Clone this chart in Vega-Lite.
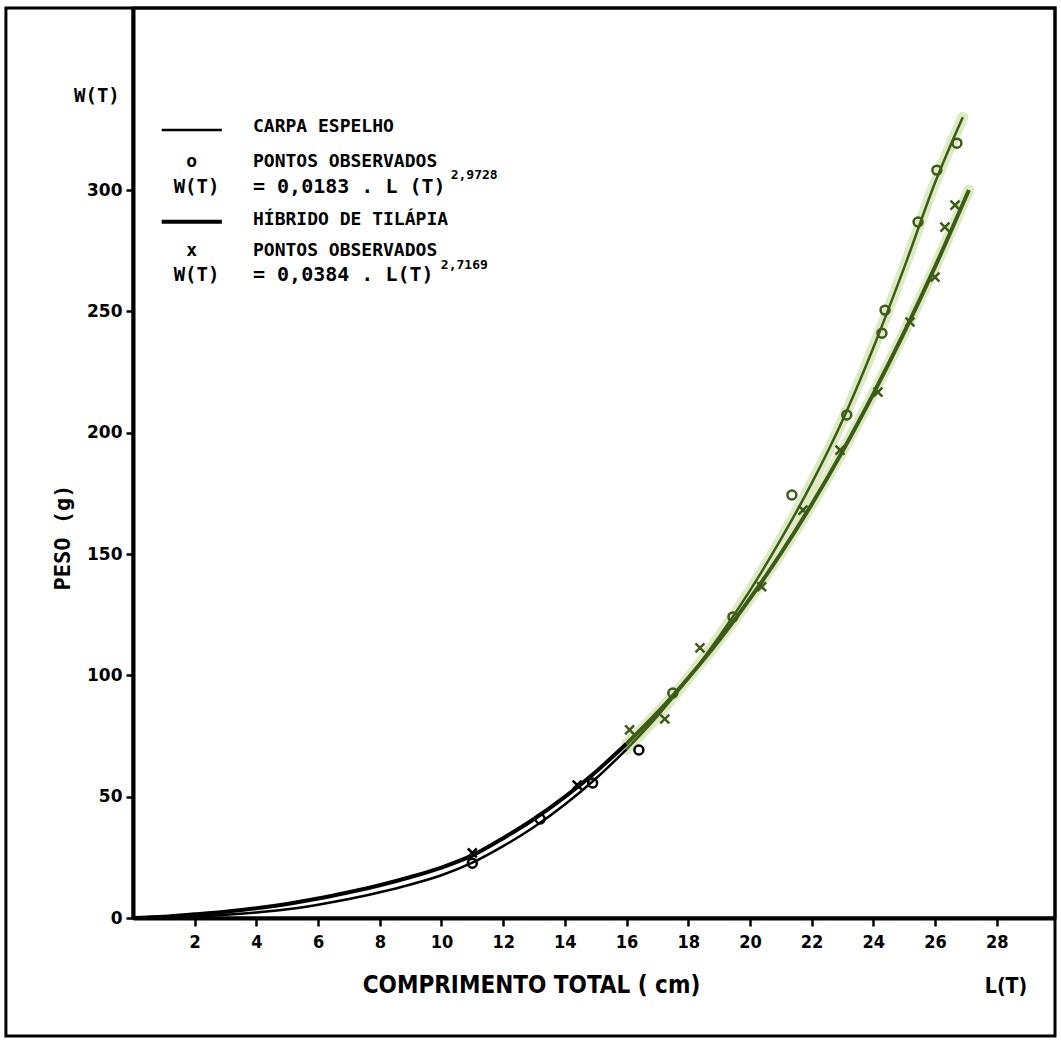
{
  "$schema": "https://vega.github.io/schema/vega-lite/v6.json",
  "width": 922,
  "height": 910,
  "autosize": {"type": "none"},
  "padding": {"left": 133, "top": 8, "right": 6, "bottom": 124},
  "background": "white",
  "config": {
    "view": {"stroke": "black", "strokeWidth": 3},
    "font": "DejaVu Sans",
    "axis": {"grid": false}
  },
  "datasets": {
    "curves": [
      {"species": "Carpa espelho", "L": 0, "W": 0},
      {"species": "Carpa espelho", "L": 1, "W": 0.2},
      {"species": "Carpa espelho", "L": 2, "W": 0.6},
      {"species": "Carpa espelho", "L": 3, "W": 1.3},
      {"species": "Carpa espelho", "L": 4, "W": 2.3},
      {"species": "Carpa espelho", "L": 5, "W": 3.6},
      {"species": "Carpa espelho", "L": 6, "W": 5.5},
      {"species": "Carpa espelho", "L": 7, "W": 7.8},
      {"species": "Carpa espelho", "L": 8, "W": 10.6},
      {"species": "Carpa espelho", "L": 9, "W": 13.8},
      {"species": "Carpa espelho", "L": 10, "W": 17.6},
      {"species": "Carpa espelho", "L": 11, "W": 22.8},
      {"species": "Carpa espelho", "L": 12, "W": 29.6},
      {"species": "Carpa espelho", "L": 13, "W": 37.5},
      {"species": "Carpa espelho", "L": 14, "W": 46.8},
      {"species": "Carpa espelho", "L": 15, "W": 57.4},
      {"species": "Carpa espelho", "L": 16, "W": 69.5},
      {"species": "Carpa espelho", "L": 17, "W": 83.2},
      {"species": "Carpa espelho", "L": 18, "W": 98.7},
      {"species": "Carpa espelho", "L": 19, "W": 115.9},
      {"species": "Carpa espelho", "L": 20, "W": 134.9},
      {"species": "Carpa espelho", "L": 21, "W": 156.0},
      {"species": "Carpa espelho", "L": 22, "W": 179.1},
      {"species": "Carpa espelho", "L": 23, "W": 205.0},
      {"species": "Carpa espelho", "L": 24, "W": 235.0},
      {"species": "Carpa espelho", "L": 25, "W": 268.0},
      {"species": "Carpa espelho", "L": 26, "W": 303.0},
      {"species": "Carpa espelho", "L": 26.9, "W": 330.0},
      {"species": "Híbrido de tilápia", "L": 0, "W": 0},
      {"species": "Híbrido de tilápia", "L": 1, "W": 0.5},
      {"species": "Híbrido de tilápia", "L": 2, "W": 1.5},
      {"species": "Híbrido de tilápia", "L": 3, "W": 2.6},
      {"species": "Híbrido de tilápia", "L": 4, "W": 4.0},
      {"species": "Híbrido de tilápia", "L": 5, "W": 5.8},
      {"species": "Híbrido de tilápia", "L": 6, "W": 8.0},
      {"species": "Híbrido de tilápia", "L": 7, "W": 10.6},
      {"species": "Híbrido de tilápia", "L": 8, "W": 13.5},
      {"species": "Híbrido de tilápia", "L": 9, "W": 16.9},
      {"species": "Híbrido de tilápia", "L": 10, "W": 20.8},
      {"species": "Híbrido de tilápia", "L": 11, "W": 25.8},
      {"species": "Híbrido de tilápia", "L": 12, "W": 32.9},
      {"species": "Híbrido de tilápia", "L": 13, "W": 40.8},
      {"species": "Híbrido de tilápia", "L": 14, "W": 49.9},
      {"species": "Híbrido de tilápia", "L": 15, "W": 60.2},
      {"species": "Híbrido de tilápia", "L": 16, "W": 71.8},
      {"species": "Híbrido de tilápia", "L": 17, "W": 84.6},
      {"species": "Híbrido de tilápia", "L": 18, "W": 98.9},
      {"species": "Híbrido de tilápia", "L": 19, "W": 114.4},
      {"species": "Híbrido de tilápia", "L": 20, "W": 131.6},
      {"species": "Híbrido de tilápia", "L": 21, "W": 150.2},
      {"species": "Híbrido de tilápia", "L": 22, "W": 170.4},
      {"species": "Híbrido de tilápia", "L": 23, "W": 192.3},
      {"species": "Híbrido de tilápia", "L": 24, "W": 216.0},
      {"species": "Híbrido de tilápia", "L": 25, "W": 241.3},
      {"species": "Híbrido de tilápia", "L": 26, "W": 268.3},
      {"species": "Híbrido de tilápia", "L": 27.1, "W": 300.0}
    ],
    "observed": [
      {"species": "Carpa espelho", "L": 11.0, "W": 22.6},
      {"species": "Carpa espelho", "L": 13.2, "W": 40.8},
      {"species": "Carpa espelho", "L": 14.9, "W": 55.6},
      {"species": "Carpa espelho", "L": 16.4, "W": 69.2},
      {"species": "Carpa espelho", "L": 17.5, "W": 92.7},
      {"species": "Carpa espelho", "L": 19.45, "W": 124.1},
      {"species": "Carpa espelho", "L": 21.36, "W": 174.3},
      {"species": "Carpa espelho", "L": 23.14, "W": 207.3},
      {"species": "Carpa espelho", "L": 24.28, "W": 241.0},
      {"species": "Carpa espelho", "L": 24.38, "W": 250.5},
      {"species": "Carpa espelho", "L": 25.45, "W": 286.8},
      {"species": "Carpa espelho", "L": 26.06, "W": 308.2},
      {"species": "Carpa espelho", "L": 26.71, "W": 319.3},
      {"species": "Híbrido de tilápia", "L": 11.0, "W": 26.8},
      {"species": "Híbrido de tilápia", "L": 14.4, "W": 54.8},
      {"species": "Híbrido de tilápia", "L": 16.1, "W": 77.5},
      {"species": "Híbrido de tilápia", "L": 17.24, "W": 82.0},
      {"species": "Híbrido de tilápia", "L": 18.38, "W": 111.3},
      {"species": "Híbrido de tilápia", "L": 20.38, "W": 136.5},
      {"species": "Híbrido de tilápia", "L": 21.72, "W": 168.1},
      {"species": "Híbrido de tilápia", "L": 22.92, "W": 192.8},
      {"species": "Híbrido de tilápia", "L": 24.15, "W": 216.7},
      {"species": "Híbrido de tilápia", "L": 25.19, "W": 245.6},
      {"species": "Híbrido de tilápia", "L": 26.0, "W": 264.1},
      {"species": "Híbrido de tilápia", "L": 26.32, "W": 284.7},
      {"species": "Híbrido de tilápia", "L": 26.65, "W": 293.8}
    ],
    "one": [{}]
  },
  "layer": [
    {
      "data": {"name": "curves"},
      "transform": [{"filter": "datum.L >= 16"}],
      "mark": {"type": "line", "color": "#dcebc2", "strokeWidth": 11, "strokeCap": "round", "interpolate": "monotone"},
      "encoding": {
        "x": {
          "field": "L", "type": "quantitative",
          "scale": {"domain": [0, 29.89], "nice": false, "zero": false},
          "axis": {
            "values": [2, 4, 6, 8, 10, 12, 14, 16, 18, 20, 22, 24, 26, 28],
            "grid": false,
            "domainColor": "black", "domainWidth": 4,
            "tickColor": "black", "tickWidth": 2.5, "tickSize": 8,
            "labelFont": "DejaVu Sans Condensed", "labelFontWeight": "bold", "labelFontSize": 18,
            "labelColor": "black", "labelPadding": 7, "labelFlush": false,
            "title": "COMPRIMENTO TOTAL ( cm)",
            "titleFont": "DejaVu Sans Condensed", "titleFontWeight": "bold", "titleFontSize": 24,
            "titleColor": "black", "titleX": 398, "titleY": 67, "titleAlign": "center", "titleBaseline": "middle"
          }
        },
        "y": {
          "field": "W", "type": "quantitative",
          "scale": {"domain": [0, 375], "nice": false, "zero": false},
          "axis": {
            "values": [0, 50, 100, 150, 200, 250, 300],
            "grid": false,
            "domainColor": "black", "domainWidth": 4,
            "tickColor": "black", "tickWidth": 2.5, "tickSize": 7,
            "labelFont": "DejaVu Sans", "labelFontWeight": "bold", "labelFontSize": 17,
            "labelColor": "black", "labelPadding": 4, "labelFlush": false,
            "title": "PESO (g)",
            "titleFont": "DejaVu Sans Mono", "titleFontWeight": "bold", "titleFontSize": 22,
            "titleColor": "black", "titleX": -71, "titleY": 529, "titleAlign": "center", "titleBaseline": "middle", "titleAngle": -90
          }
        },
        "detail": {"field": "species"}
      }
    },
    {
      "data": {"name": "curves"},
      "transform": [{"filter": "datum.L <= 16"}],
      "mark": {"type": "line", "color": "black", "interpolate": "monotone"},
      "encoding": {
        "x": {"field": "L", "type": "quantitative", "scale": {"domain": [0, 29.89], "nice": false, "zero": false}},
        "y": {"field": "W", "type": "quantitative", "scale": {"domain": [0, 375], "nice": false, "zero": false}},
        "detail": {"field": "species"},
        "strokeWidth": {"field": "species", "type": "nominal", "scale": {"domain": ["Carpa espelho", "Híbrido de tilápia"], "range": [2.5, 4]}, "legend": null}
      }
    },
    {
      "data": {"name": "curves"},
      "transform": [{"filter": "datum.L >= 16"}],
      "mark": {"type": "line", "color": "#3d5a18", "interpolate": "monotone"},
      "encoding": {
        "x": {"field": "L", "type": "quantitative", "scale": {"domain": [0, 29.89], "nice": false, "zero": false}},
        "y": {"field": "W", "type": "quantitative", "scale": {"domain": [0, 375], "nice": false, "zero": false}},
        "detail": {"field": "species"},
        "strokeWidth": {"field": "species", "type": "nominal", "scale": {"domain": ["Carpa espelho", "Híbrido de tilápia"], "range": [2.5, 4]}, "legend": null}
      }
    },
    {
      "data": {"name": "observed"},
      "mark": {"type": "point", "filled": false, "strokeWidth": 2.5, "size": 80, "opacity": 1},
      "encoding": {
        "x": {"field": "L", "type": "quantitative", "scale": {"domain": [0, 29.89], "nice": false, "zero": false}},
        "y": {"field": "W", "type": "quantitative", "scale": {"domain": [0, 375], "nice": false, "zero": false}},
        "shape": {"field": "species", "type": "nominal", "scale": {"domain": ["Carpa espelho", "Híbrido de tilápia"], "range": ["circle", "M-1,-1L1,1M-1,1L1,-1"]}, "legend": null},
        "stroke": {"condition": {"test": "datum.W > 75", "value": "#3d5a18"}, "value": "black"}
      }
    },
    {
      "data": {"name": "one"},
      "mark": {"type": "rect", "filled": false, "stroke": "black", "strokeWidth": 3},
      "encoding": {
        "x": {"datum": -4.12, "type": "quantitative", "scale": {"domain": [0, 29.89], "nice": false, "zero": false}},
        "x2": {"datum": 29.89},
        "y": {"datum": -48.6, "type": "quantitative", "scale": {"domain": [0, 375], "nice": false, "zero": false}},
        "y2": {"datum": 375}
      }
    },
    {
      "data": {"name": "one"},
      "mark": {"type": "rule", "color": "black", "strokeWidth": 2.5},
      "encoding": {
        "x": {"datum": 0.93, "type": "quantitative", "scale": {"domain": [0, 29.89], "nice": false, "zero": false}},
        "x2": {"datum": 2.88},
        "y": {"datum": 324.7, "type": "quantitative", "scale": {"domain": [0, 375], "nice": false, "zero": false}}
      }
    },
    {
      "data": {"name": "one"},
      "mark": {"type": "rule", "color": "black", "strokeWidth": 4},
      "encoding": {
        "x": {"datum": 0.93, "type": "quantitative", "scale": {"domain": [0, 29.89], "nice": false, "zero": false}},
        "x2": {"datum": 2.88},
        "y": {"datum": 286.9, "type": "quantitative", "scale": {"domain": [0, 375], "nice": false, "zero": false}}
      }
    },
    {
      "data": {"name": "one"},
      "mark": {"type": "text", "text": "CARPA ESPELHO", "align": "left", "baseline": "middle", "font": "DejaVu Sans Mono", "fontWeight": "bold", "fontSize": 18, "color": "black"},
      "encoding": {
        "x": {"datum": 3.89, "type": "quantitative", "scale": {"domain": [0, 29.89], "nice": false, "zero": false}},
        "y": {"datum": 326, "type": "quantitative", "scale": {"domain": [0, 375], "nice": false, "zero": false}}
      }
    },
    {
      "data": {"name": "one"},
      "mark": {"type": "text", "text": "o", "align": "center", "baseline": "middle", "font": "DejaVu Sans Mono", "fontWeight": "bold", "fontSize": 18, "color": "black"},
      "encoding": {
        "x": {"datum": 1.9, "type": "quantitative", "scale": {"domain": [0, 29.89], "nice": false, "zero": false}},
        "y": {"datum": 311.5, "type": "quantitative", "scale": {"domain": [0, 375], "nice": false, "zero": false}}
      }
    },
    {
      "data": {"name": "one"},
      "mark": {"type": "text", "text": "PONTOS OBSERVADOS", "align": "left", "baseline": "middle", "font": "DejaVu Sans Mono", "fontWeight": "bold", "fontSize": 18, "color": "black"},
      "encoding": {
        "x": {"datum": 3.89, "type": "quantitative", "scale": {"domain": [0, 29.89], "nice": false, "zero": false}},
        "y": {"datum": 311.6, "type": "quantitative", "scale": {"domain": [0, 375], "nice": false, "zero": false}}
      }
    },
    {
      "data": {"name": "one"},
      "mark": {"type": "text", "text": "W(T)", "align": "center", "baseline": "middle", "font": "DejaVu Sans Mono", "fontWeight": "bold", "fontSize": 19, "color": "black"},
      "encoding": {
        "x": {"datum": 2.06, "type": "quantitative", "scale": {"domain": [0, 29.89], "nice": false, "zero": false}},
        "y": {"datum": 301.3, "type": "quantitative", "scale": {"domain": [0, 375], "nice": false, "zero": false}}
      }
    },
    {
      "data": {"name": "one"},
      "mark": {"type": "text", "text": "= 0,0183 . L (T)", "align": "left", "baseline": "middle", "font": "DejaVu Sans Mono", "fontWeight": "bold", "fontSize": 20, "color": "black"},
      "encoding": {
        "x": {"datum": 3.89, "type": "quantitative", "scale": {"domain": [0, 29.89], "nice": false, "zero": false}},
        "y": {"datum": 301.3, "type": "quantitative", "scale": {"domain": [0, 375], "nice": false, "zero": false}}
      }
    },
    {
      "data": {"name": "one"},
      "mark": {"type": "text", "text": "2,9728", "align": "left", "baseline": "middle", "font": "DejaVu Sans Mono", "fontWeight": "bold", "fontSize": 13, "color": "black"},
      "encoding": {
        "x": {"datum": 10.3, "type": "quantitative", "scale": {"domain": [0, 29.89], "nice": false, "zero": false}},
        "y": {"datum": 306, "type": "quantitative", "scale": {"domain": [0, 375], "nice": false, "zero": false}}
      }
    },
    {
      "data": {"name": "one"},
      "mark": {"type": "text", "text": "HÍBRIDO DE TILÁPIA", "align": "left", "baseline": "middle", "font": "DejaVu Sans Mono", "fontWeight": "bold", "fontSize": 18, "color": "black"},
      "encoding": {
        "x": {"datum": 3.89, "type": "quantitative", "scale": {"domain": [0, 29.89], "nice": false, "zero": false}},
        "y": {"datum": 287.8, "type": "quantitative", "scale": {"domain": [0, 375], "nice": false, "zero": false}}
      }
    },
    {
      "data": {"name": "one"},
      "mark": {"type": "text", "text": "x", "align": "center", "baseline": "middle", "font": "DejaVu Sans Mono", "fontWeight": "bold", "fontSize": 18, "color": "black"},
      "encoding": {
        "x": {"datum": 1.9, "type": "quantitative", "scale": {"domain": [0, 29.89], "nice": false, "zero": false}},
        "y": {"datum": 274.8, "type": "quantitative", "scale": {"domain": [0, 375], "nice": false, "zero": false}}
      }
    },
    {
      "data": {"name": "one"},
      "mark": {"type": "text", "text": "PONTOS OBSERVADOS", "align": "left", "baseline": "middle", "font": "DejaVu Sans Mono", "fontWeight": "bold", "fontSize": 18, "color": "black"},
      "encoding": {
        "x": {"datum": 3.89, "type": "quantitative", "scale": {"domain": [0, 29.89], "nice": false, "zero": false}},
        "y": {"datum": 274.8, "type": "quantitative", "scale": {"domain": [0, 375], "nice": false, "zero": false}}
      }
    },
    {
      "data": {"name": "one"},
      "mark": {"type": "text", "text": "W(T)", "align": "center", "baseline": "middle", "font": "DejaVu Sans Mono", "fontWeight": "bold", "fontSize": 19, "color": "black"},
      "encoding": {
        "x": {"datum": 2.06, "type": "quantitative", "scale": {"domain": [0, 29.89], "nice": false, "zero": false}},
        "y": {"datum": 265, "type": "quantitative", "scale": {"domain": [0, 375], "nice": false, "zero": false}}
      }
    },
    {
      "data": {"name": "one"},
      "mark": {"type": "text", "text": "= 0,0384 . L(T)", "align": "left", "baseline": "middle", "font": "DejaVu Sans Mono", "fontWeight": "bold", "fontSize": 20, "color": "black"},
      "encoding": {
        "x": {"datum": 3.89, "type": "quantitative", "scale": {"domain": [0, 29.89], "nice": false, "zero": false}},
        "y": {"datum": 265, "type": "quantitative", "scale": {"domain": [0, 375], "nice": false, "zero": false}}
      }
    },
    {
      "data": {"name": "one"},
      "mark": {"type": "text", "text": "2,7169", "align": "left", "baseline": "middle", "font": "DejaVu Sans Mono", "fontWeight": "bold", "fontSize": 13, "color": "black"},
      "encoding": {
        "x": {"datum": 9.98, "type": "quantitative", "scale": {"domain": [0, 29.89], "nice": false, "zero": false}},
        "y": {"datum": 269, "type": "quantitative", "scale": {"domain": [0, 375], "nice": false, "zero": false}}
      }
    },
    {
      "data": {"name": "one"},
      "mark": {"type": "text", "text": "W(T)", "align": "center", "baseline": "middle", "font": "DejaVu Sans Mono", "fontWeight": "bold", "fontSize": 19, "color": "black"},
      "encoding": {
        "x": {"datum": -1.17, "type": "quantitative", "scale": {"domain": [0, 29.89], "nice": false, "zero": false}},
        "y": {"datum": 338.7, "type": "quantitative", "scale": {"domain": [0, 375], "nice": false, "zero": false}}
      }
    },
    {
      "data": {"name": "one"},
      "mark": {"type": "text", "text": "L(T)", "align": "center", "baseline": "middle", "font": "DejaVu Sans Condensed", "fontWeight": "bold", "fontSize": 21, "color": "black"},
      "encoding": {
        "x": {"datum": 28.3, "type": "quantitative", "scale": {"domain": [0, 29.89], "nice": false, "zero": false}},
        "y": {"datum": -28.6, "type": "quantitative", "scale": {"domain": [0, 375], "nice": false, "zero": false}}
      }
    }
  ]
}
